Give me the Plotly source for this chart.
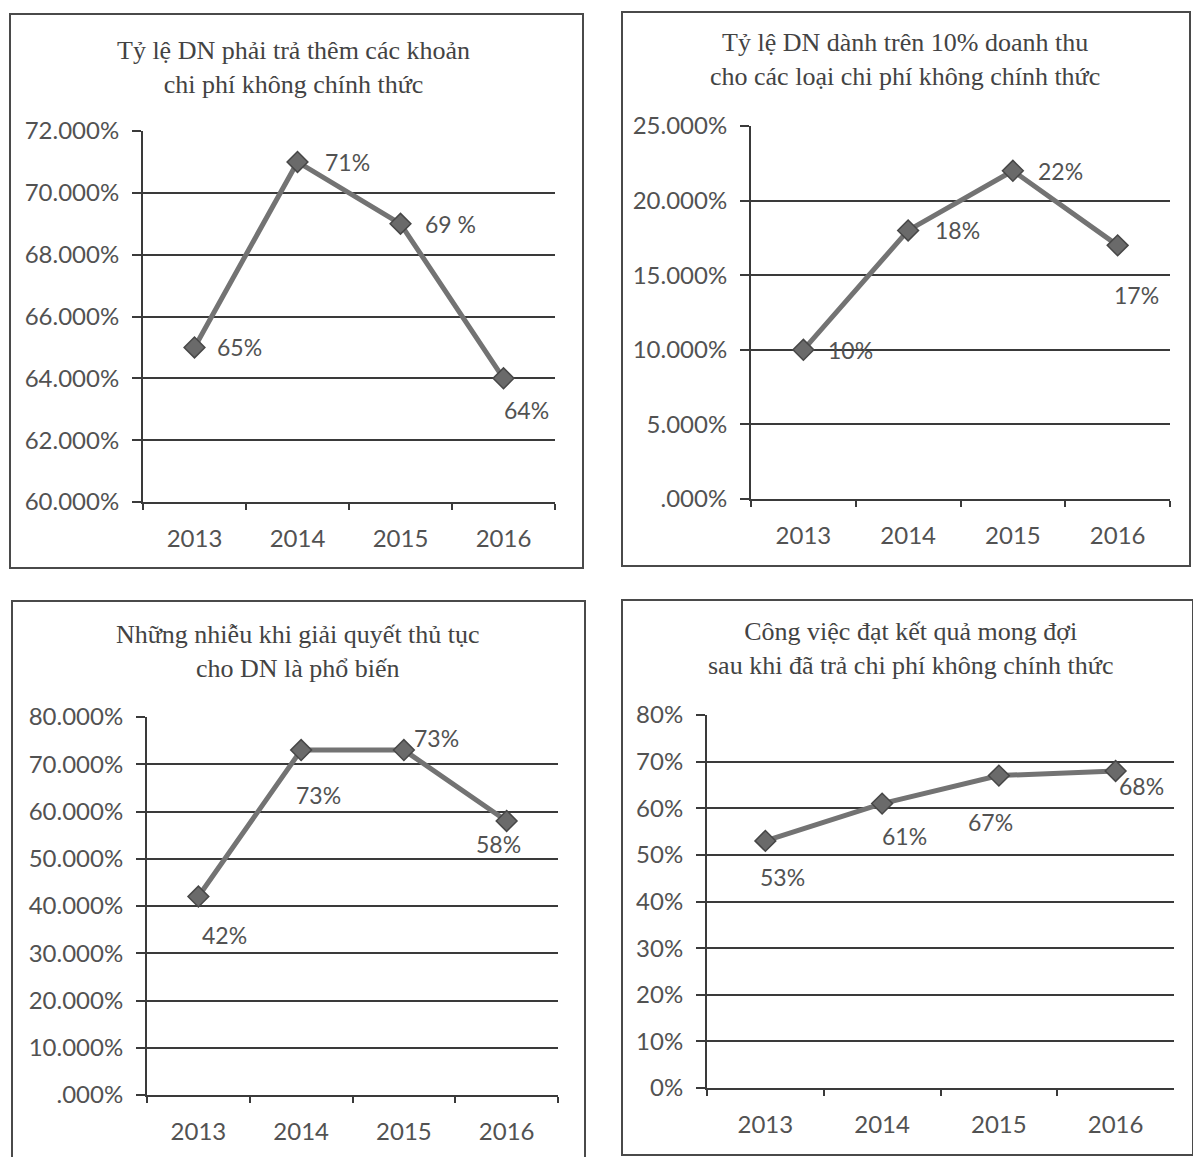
import plotly.graph_objects as go

W, H = 1193, 1157

years = ["2013", "2014", "2015", "2016"]

# Chart 1: share of firms paying extra informal charges
title1 = "Tỷ lệ DN phải trả thêm các khoản<br>chi phí không chính thức"
vals1 = [0.65, 0.71, 0.69, 0.64]
labels1 = ["65%", "71%", "69 %", "64%"]
ticks1 = [0.60, 0.62, 0.64, 0.66, 0.68, 0.70, 0.72]
ticktext1 = ["60.000%", "62.000%", "64.000%", "66.000%", "68.000%", "70.000%", "72.000%"]

# Chart 2: share of firms spending over 10% of revenue on informal charges
title2 = "Tỷ lệ DN dành trên 10% doanh thu<br>cho các loại chi phí không chính thức"
vals2 = [0.10, 0.18, 0.22, 0.17]
labels2 = ["10%", "18%", "22%", "17%"]
ticks2 = [0.0, 0.05, 0.10, 0.15, 0.20, 0.25]
ticktext2 = [".000%", "5.000%", "10.000%", "15.000%", "20.000%", "25.000%"]

# Chart 3: harassment when handling procedures is common
title3 = "Những nhiễu khi giải quyết thủ tục<br>cho DN là phổ biến"
vals3 = [0.42, 0.73, 0.73, 0.58]
labels3 = ["42%", "73%", "73%", "58%"]
ticks3 = [0.0, 0.1, 0.2, 0.3, 0.4, 0.5, 0.6, 0.7, 0.8]
ticktext3 = [".000%", "10.000%", "20.000%", "30.000%", "40.000%",
             "50.000%", "60.000%", "70.000%", "80.000%"]

# Chart 4: work achieved expected result after paying informal charges
title4 = "Công việc đạt kết quả mong đợi<br>sau khi đã trả chi phí không chính thức"
vals4 = [0.53, 0.61, 0.67, 0.68]
labels4 = ["53%", "61%", "67%", "68%"]
ticks4 = [0.0, 0.1, 0.2, 0.3, 0.4, 0.5, 0.6, 0.7, 0.8]
ticktext4 = ["0%", "10%", "20%", "30%", "40%", "50%", "60%", "70%", "80%"]

TEXT = "#525252"
GRID = "#3a3a3a"
LINE = "#737373"
SANS = "Lato, 'Liberation Sans', sans-serif"
SERIF = "'Liberation Serif', 'DejaVu Serif', serif"


def px_x(v):
    return v / W


def px_y(v):
    return 1 - v / H


# Panel geometry in page pixels; "off" is the (dx, dy) pixel offset of each data label
panels = [
    dict(title=title1, vals=vals1, labels=labels1, tv=ticks1, tt=ticktext1, rng=[0.60, 0.72],
         xpx=(143, 555), ypx=(131, 502), tc=(293, 67), box=(10, 14, 583, 568),
         off=[(45, 0), (50, 0), (50, 0), (23, 32)]),
    dict(title=title2, vals=vals2, labels=labels2, tv=ticks2, tt=ticktext2, rng=[0.0, 0.25],
         xpx=(751, 1170), ypx=(126, 499), tc=(905, 60), box=(622, 12, 1190, 566),
         off=[(47, 0), (49, 0), (48, 0), (19, 50)]),
    dict(title=title3, vals=vals3, labels=labels3, tv=ticks3, tt=ticktext3, rng=[0.0, 0.8],
         xpx=(147, 558), ypx=(717, 1095), tc=(298, 652), box=(12, 601, 585, 1170),
         off=[(26, 38), (17, 45), (33, -12), (-8, 23)]),
    dict(title=title4, vals=vals4, labels=labels4, tv=ticks4, tt=ticktext4, rng=[0.0, 0.8],
         xpx=(707, 1174), ypx=(715, 1088), tc=(910, 648), box=(622, 600, 1193, 1155),
         off=[(17, 36), (22, 32), (-8, 46), (26, 15)]),
]

fig = go.Figure()
layout = dict(
    template="none",
    width=W, height=H,
    margin=dict(l=0, r=0, t=0, b=0, pad=0, autoexpand=False),
    paper_bgcolor="white", plot_bgcolor="white",
    showlegend=False,
    annotations=[], shapes=[],
)

for i, p in enumerate(panels, start=1):
    xa = "x" if i == 1 else f"x{i}"
    ya = "y" if i == 1 else f"y{i}"
    fig.add_trace(go.Scatter(
        x=years, y=p["vals"], xaxis=xa, yaxis=ya,
        mode="lines+markers",
        line=dict(color=LINE, width=5),
        marker=dict(symbol="diamond", size=16, color="#6a6a6a",
                    line=dict(color="#474747", width=1.5)),
        cliponaxis=False, hoverinfo="skip",
    ))
    # data labels: category axes place annotations by category index
    for idx, (v, lab, (dx, dy)) in enumerate(zip(p["vals"], p["labels"], p["off"])):
        layout["annotations"].append(dict(
            xref=xa, yref=ya, x=idx, y=v, text=lab, showarrow=False,
            xanchor="center", yanchor="middle", xshift=dx, yshift=-dy,
            font=dict(family=SANS, size=23, color=TEXT),
        ))
    layout[f"xaxis{'' if i == 1 else i}"] = dict(
        domain=[px_x(p["xpx"][0]), px_x(p["xpx"][1])],
        anchor=ya, type="category", range=[-0.5, 3.5], automargin=False,
        tickson="boundaries", ticks="outside", ticklen=6, tickwidth=2, tickcolor=GRID,
        ticklabelstandoff=14,
        showline=True, linecolor=GRID, linewidth=2, showgrid=False, zeroline=False,
        tickfont=dict(family=SANS, size=24, color=TEXT),
        fixedrange=True,
    )
    layout[f"yaxis{'' if i == 1 else i}"] = dict(
        domain=[px_y(p["ypx"][1]), px_y(p["ypx"][0])],
        anchor=xa, range=p["rng"], tickvals=p["tv"], ticktext=p["tt"], automargin=False,
        ticks="outside", ticklen=9, tickwidth=2, tickcolor=GRID, ticklabelstandoff=8,
        showline=True, linecolor=GRID, linewidth=2,
        showgrid=True, gridcolor=GRID, gridwidth=2, zeroline=False,
        tickfont=dict(family=SANS, size=24, color=TEXT),
        fixedrange=True,
    )
    layout["annotations"].append(dict(
        xref="paper", yref="paper", x=px_x(p["tc"][0]), y=px_y(p["tc"][1]),
        xanchor="center", yanchor="middle", showarrow=False,
        text=p["title"], align="center",
        font=dict(family=SERIF, size=26, color="#434343"),
    ))
    bx = p["box"]
    layout["shapes"].append(dict(
        type="rect", xref="paper", yref="paper",
        x0=px_x(bx[0]), x1=px_x(bx[2]), y0=px_y(bx[3]), y1=px_y(bx[1]),
        line=dict(color="#4a4a4a", width=2), fillcolor="rgba(0,0,0,0)", layer="below",
    ))

fig.update_layout(**layout)
fig.write_html("out.html", config={"displayModeBar": False})
